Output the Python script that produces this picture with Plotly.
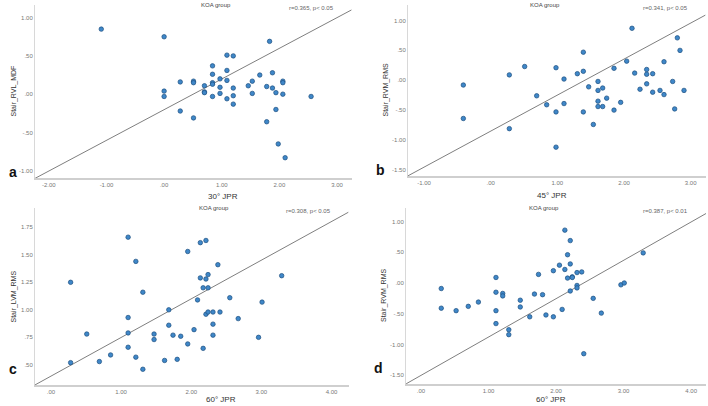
import plotly.graph_objects as go

W, H = 708, 406

# ---------------- data ----------------
a_x = [-1.09, 0.0, 0.0, 0.0, 0.28, 0.28, 0.51, 0.51, 0.51, 0.70, 0.70, 0.70, 0.84, 0.84, 0.84, 0.84, 0.84,
       0.97, 0.97, 0.97, 1.09, 1.09, 1.09, 1.09, 1.20, 1.20, 1.20, 1.20, 1.46, 1.53, 1.53, 1.66, 1.78, 1.78,
       1.83, 1.88, 1.88, 1.94, 1.94, 1.98, 2.06, 2.06, 2.06, 2.10, 2.55]
a_y = [0.85, 0.75, 0.04, -0.03, 0.16, -0.22, 0.17, 0.15, -0.31, 0.11, 0.03, 0.02, 0.37, 0.26, 0.15, 0.13, -0.03,
       0.20, 0.09, 0.01, 0.51, 0.31, 0.18, -0.06, 0.50, 0.08, -0.02, -0.13, 0.11, 0.17, 0.01, 0.25, 0.10, -0.36,
       0.69, 0.08, 0.28, 0.02, -0.20, -0.65, 0.17, 0.15, 0.00, -0.83, -0.03]
a_line_x = [-2.24, 3.25]
a_line_y = [-1.10, 1.10]

b_x = [-0.41, -0.41, 0.28, 0.28, 0.51, 0.69, 0.84, 0.98, 0.98, 0.98, 1.10, 1.10, 1.30, 1.39, 1.39, 1.39, 1.47,
       1.54, 1.61, 1.61, 1.61, 1.61, 1.68, 1.68, 1.74, 1.85, 1.85, 1.95, 2.04, 2.12, 2.16, 2.24, 2.34, 2.34,
       2.34, 2.43, 2.43, 2.54, 2.60, 2.60, 2.73, 2.76, 2.80, 2.84, 2.90]
b_y = [-0.08, -0.64, 0.09, -0.81, 0.23, -0.26, -0.41, 0.21, -0.53, -1.12, 0.02, -0.39, 0.11, 0.47, 0.15, -0.53,
       -0.11, -0.74, -0.02, -0.17, -0.35, -0.44, -0.13, -0.44, -0.30, 0.20, -0.50, -0.37, 0.32, 0.87, 0.12, -0.15,
       0.18, 0.10, -0.06, 0.11, -0.20, -0.17, 0.31, -0.24, -0.02, -0.48, 0.71, 0.50, -0.17]
b_line_x = [-1.24, 3.22]
b_line_y = [-1.60, 1.09]

c_x = [0.28, 0.28, 0.51, 0.69, 0.85, 1.10, 1.10, 1.10, 1.10, 1.21, 1.21, 1.31, 1.31, 1.47, 1.47, 1.62, 1.68,
       1.68, 1.74, 1.80, 1.85, 1.95, 1.95, 2.04, 2.09, 2.13, 2.13, 2.17, 2.17, 2.21, 2.21, 2.21, 2.24, 2.24,
       2.24, 2.31, 2.31, 2.31, 2.38, 2.41, 2.55, 2.67, 2.96, 3.01, 3.29]
c_y = [1.25, 0.52, 0.78, 0.53, 0.59, 1.66, 0.93, 0.79, 0.66, 1.44, 0.57, 1.16, 0.46, 0.78, 0.73, 0.54, 1.00,
       0.86, 0.77, 0.55, 0.76, 1.53, 0.69, 0.82, 1.09, 1.61, 1.29, 1.20, 0.65, 1.63, 1.28, 0.96, 1.32, 1.20,
       0.98, 0.98, 0.87, 0.77, 1.41, 0.98, 1.11, 0.92, 0.75, 1.07, 1.31]
c_line_x = [-0.23, 4.24]
c_line_y = [0.317, 1.886]

d_x = [0.30, 0.30, 0.52, 0.70, 0.85, 1.11, 1.11, 1.11, 1.11, 1.21, 1.21, 1.30, 1.30, 1.47, 1.47, 1.61, 1.68,
       1.74, 1.80, 1.85, 1.96, 1.96, 2.05, 2.09, 2.13, 2.13, 2.17, 2.17, 2.21, 2.21, 2.21, 2.24, 2.24, 2.31,
       2.31, 2.31, 2.38, 2.41, 2.55, 2.67, 2.96, 3.01, 3.29]
d_y = [-0.09, -0.41, -0.45, -0.38, -0.31, 0.09, -0.15, -0.45, -0.66, -0.17, -0.21, -0.76, -0.84, -0.28, -0.39,
       -0.55, -0.18, 0.14, -0.19, -0.52, 0.20, -0.55, 0.29, -0.43, 0.86, 0.22, 0.46, 0.08, 0.69, 0.31, -0.13,
       0.10, 0.09, 0.17, -0.04, -0.08, 0.18, -1.15, -0.25, -0.49, -0.03, 0.00, 0.49]
d_line_x = [-0.22, 4.22]
d_line_y = [-1.64, 1.13]

a_xticks = [-2, -1, 0, 1, 2, 3]
a_xtext = ["-2.00", "-1.00", ".00", "1.00", "2.00", "3.00"]
a_yticks = [-1, -0.5, 0, 0.5, 1]
a_ytext = ["-1.00", "-.50", ".00", ".50", "1.00"]
b_xticks = [-1, 0, 1, 2, 3]
b_xtext = ["-1.00", ".00", "1.00", "2.00", "3.00"]
b_yticks = [-1.5, -1, -0.5, 0, 0.5, 1]
b_ytext = ["-1.50", "-1.00", "-.50", ".00", ".50", "1.00"]
c_xticks = [0, 1, 2, 3, 4]
c_xtext = [".00", "1.00", "2.00", "3.00", "4.00"]
c_yticks = [0.5, 0.75, 1.0, 1.25, 1.5, 1.75]
c_ytext = [".50", ".75", "1.00", "1.25", "1.50", "1.75"]
d_xticks = [0, 1, 2, 3, 4]
d_xtext = [".00", "1.00", "2.00", "3.00", "4.00"]
d_yticks = [-1.5, -1, -0.5, 0, 0.5, 1]
d_ytext = ["-1.50", "-1.00", "-.50", ".00", ".50", "1.00"]

titles = ["KOA group", "KOA group", "KOA group", "KOA group"]
stats = ["r=0.365, p< 0.05", "r=0.341, p< 0.05", "r=0.308, p< 0.05", "r=0.387, p< 0.01"]
x_titles = ["30° JPR", "45° JPR", "60° JPR", "60° JPR"]
y_titles = ["Stair_RVL_MDF", "Stair_RVM_RMS", "Stair_LVM_RMS", "Stair_RVM_RMS"]
letters = ["a", "b", "c", "d"]

# ---------------- layout geometry (pixels) ----------------
panels = [
    dict(x=a_x, y=a_y, lx=a_line_x, ly=a_line_y, xt=a_xticks, xtt=a_xtext, yt=a_yticks, ytt=a_ytext,
         px=(35, 352), py=(5, 178), xr=[-2.24, 3.26], yr=[-1.095, 1.165], xty=196),
    dict(x=b_x, y=b_y, lx=b_line_x, ly=b_line_y, xt=b_xticks, xtt=b_xtext, yt=b_yticks, ytt=b_ytext,
         px=(408, 706), py=(5, 176), xr=[-1.24, 3.23], yr=[-1.603, 1.26], xty=195),
    dict(x=c_x, y=c_y, lx=c_line_x, ly=c_line_y, xt=c_xticks, xtt=c_xtext, yt=c_yticks, ytt=c_ytext,
         px=(35, 349), py=(208, 385), xr=[-0.228, 4.25], yr=[0.317, 1.925], xty=399),
    dict(x=d_x, y=d_y, lx=d_line_x, ly=d_line_y, xt=d_xticks, xtt=d_xtext, yt=d_yticks, ytt=d_ytext,
         px=(406, 706), py=(208, 384), xr=[-0.222, 4.22], yr=[-1.643, 1.22], xty=399),
]

fig = go.Figure()
layout = dict(width=W, height=H, margin=dict(l=0, r=0, t=0, b=0), paper_bgcolor="white",
              plot_bgcolor="white", showlegend=False, annotations=[])

tickfont = dict(family="Liberation Sans, Arial", size=6, color="#777")
for i, p in enumerate(panels):
    n = "" if i == 0 else str(i + 1)
    xa, ya = "x" + n, "y" + n
    fig.add_trace(go.Scatter(x=p["lx"], y=p["ly"], mode="lines", xaxis=xa, yaxis=ya,
                             line=dict(color="#7f7f7f", width=1), hoverinfo="skip"))
    fig.add_trace(go.Scatter(x=p["x"], y=p["y"], mode="markers", xaxis=xa, yaxis=ya,
                             marker=dict(size=4.5, color="#3f87c8", line=dict(color="#1d4f80", width=0.7))))
    xd = [p["px"][0] / W, p["px"][1] / W]
    yd = [1 - p["py"][1] / H, 1 - p["py"][0] / H]
    layout["xaxis" + n] = dict(domain=xd, range=p["xr"], anchor=ya, tickvals=p["xt"], ticktext=p["xtt"],
                               showgrid=False, zeroline=False, showline=True, linecolor="#cfcfcf",
                               linewidth=1.5, ticks="", tickfont=tickfont)
    layout["yaxis" + n] = dict(domain=yd, range=p["yr"], anchor=xa, tickvals=p["yt"], ticktext=p["ytt"],
                               showgrid=False, zeroline=False, showline=True, linecolor="#d8d8d8",
                               linewidth=1, ticks="", tickfont=tickfont)
    cx = (p["px"][0] + p["px"][1]) / 2
    ann = layout["annotations"]
    ann.append(dict(text=titles[i], x=(cx + 5) / W, y=1 - (p["py"][0]) / H, xref="paper", yref="paper",
                    showarrow=False, yanchor="middle", font=dict(family="Liberation Sans, Arial", size=6, color="#444")))
    ann.append(dict(text=stats[i], x=(p["px"][1] - 16) / W, y=1 - (p["py"][0] + 3) / H, xref="paper", yref="paper",
                    showarrow=False, xanchor="right", yanchor="middle",
                    font=dict(family="Liberation Sans, Arial", size=6, color="#666")))
    ann.append(dict(text=x_titles[i], x=(cx + 12) / W, y=1 - p["xty"] / H, xref="paper", yref="paper",
                    showarrow=False, yanchor="middle", font=dict(family="Liberation Sans, Arial", size=8, color="#333")))
    ann.append(dict(text=y_titles[i], x=(p["px"][0] - 22) / W, y=1 - ((p["py"][0] + p["py"][1]) / 2) / H,
                    xref="paper", yref="paper", showarrow=False, textangle=-90, xanchor="center", yanchor="middle",
                    font=dict(family="Liberation Sans, Arial", size=7, color="#333")))
    ann.append(dict(text="<b>" + letters[i] + "</b>", x=(p["px"][0] - 28) / W,
                    y=1 - (p["py"][1] - 6) / H, xref="paper", yref="paper", showarrow=False,
                    font=dict(family="Liberation Sans, Arial", size=14, color="#111")))

fig.update_layout(**layout)
fig.write_html("out.html")
